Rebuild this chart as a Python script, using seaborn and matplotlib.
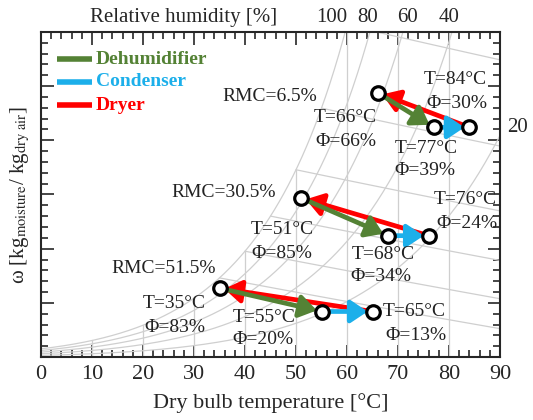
import numpy as np
import pandas as pd
import matplotlib
matplotlib.use("Agg")
import matplotlib.pyplot as plt
import seaborn as sns
from matplotlib.ticker import MultipleLocator

# ---------------- data ----------------
rmc_labels = ["RMC=6.5%", "RMC=30.5%", "RMC=51.5%"]
# state after dryer (inlet of dehumidifier)
T_a = [66, 51, 35]
phi_a = [66, 85, 83]
w_a = [0.122, 0.0734, 0.0318]
# state after dehumidifier
T_b = [77, 68, 55]
phi_b = [39, 34, 20]
w_b = [0.106, 0.056, 0.021]
# state after condenser
T_c = [84, 76, 65]
phi_c = [30, 24, 13]
w_c = [0.106, 0.056, 0.021]

rh_levels = [100, 80, 60, 40, 20]
rh_top_labels = ["100", "80", "60", "40"]
rh_top_T = [57, 64, 71.8, 80]
rh_right_label = "20"
wetbulb_levels = [35, 40, 45, 50, 55, 60]
drybulb_grid = [10, 20, 30, 40, 50, 60, 70, 80]

legend_names = ["Dehumidifier", "Condenser", "Dryer"]
col_dehum = "#548235"
col_cond = "#1CAFEA"
col_dryer = "#FF0000"
grid_col = "#CFCFCF"

P = 101.325
YMAX = 0.15

def psat(T):
    T = np.asarray(T, float)
    return 0.61094 * np.exp(17.625 * T / (T + 243.04))

def w_from_rh(T, rh):
    pv = rh / 100.0 * psat(T)
    return 0.622 * pv / (P - pv)

# ---------------- figure ----------------
sns.set_style("ticks")
plt.rcParams["font.family"] = ["Liberation Serif", "DejaVu Serif"]
plt.rcParams["mathtext.fontset"] = "stix"

fig = plt.figure(figsize=(5.33, 4.20), dpi=100)
ax = fig.add_axes([41 / 533, 1 - 357 / 420, 459 / 533, 325 / 420])
ax.set_xlim(0, 90)
ax.set_ylim(0, YMAX)

# RH curves
Tg = np.linspace(0, 90, 400)
for rh in rh_levels:
    wv = w_from_rh(Tg, rh)
    df = pd.DataFrame({"T": Tg, "w": wv})
    df = df[df["w"] <= YMAX * 1.02]
    sns.lineplot(data=df, x="T", y="w", ax=ax, color=grid_col, lw=0.9,
                 sort=False, estimator=None, zorder=1)

# dry bulb vertical lines (to saturation)
for Tv in drybulb_grid:
    wtop = min(float(w_from_rh(Tv, 100)), YMAX)
    ax.plot([Tv, Tv], [0, wtop], color=grid_col, lw=0.9, zorder=1)

# wet bulb lines
for twb in wetbulb_levels:
    ws = float(w_from_rh(twb, 100))
    Tl = np.linspace(twb, 90, 100)
    wl = ((2501 - 2.326 * twb) * ws - 1.006 * (Tl - twb)) / (2501 + 1.86 * Tl - 4.186 * twb)
    m = (wl >= 0) & (wl <= YMAX)
    ax.plot(Tl[m], wl[m], color=grid_col, lw=0.9, zorder=1)

# arrows
def arrow(p0, p1, col):
    ax.annotate("", xy=p1, xytext=p0,
                arrowprops=dict(arrowstyle="-|>,head_length=0.6,head_width=0.4",
                                color=col, lw=3.4, mutation_scale=17,
                                shrinkA=4, shrinkB=3.5),
                zorder=3)

for i in range(3):
    arrow((T_c[i], w_c[i]), (T_a[i], w_a[i]), col_dryer)
    arrow((T_a[i], w_a[i]), (T_b[i], w_b[i]), col_dehum)
    arrow((T_b[i], w_b[i]), (T_c[i], w_c[i]), col_cond)

pts = pd.DataFrame({"T": T_a + T_b + T_c, "w": w_a + w_b + w_c})
sns.scatterplot(data=pts, x="T", y="w", ax=ax, s=95, color="white",
                edgecolor="black", linewidth=2.3, zorder=5)

# annotations (offsets in pixels)
fs = 14
def lab(txt, xy, dx, dy):
    ax.annotate(txt, xy=xy, xytext=(dx, dy), textcoords="offset pixels",
                ha="center", va="center", fontsize=fs, color="#222222", zorder=6)

off_rmc = [(-108, -4), (-77, 5), (-56, 20)]
off_Ta = [(-32, -25), (-19, -32), (-45, -15)]
off_Tb = [(-7, -21), (-5, -19), (-57, -6)]
off_Tc = [(-14, 48), (37, 36), (42, 0)]
for i in range(3):
    pa = (T_a[i], w_a[i]); pb = (T_b[i], w_b[i]); pc = (T_c[i], w_c[i])
    lab(rmc_labels[i], pa, *off_rmc[i])
    lab(f"T={T_a[i]}°C", pa, *off_Ta[i])
    lab(f"Φ={phi_a[i]}%", pa, off_Ta[i][0], off_Ta[i][1] - 24)
    lab(f"T={T_b[i]}°C", pb, *off_Tb[i])
    lab(f"Φ={phi_b[i]}%", pb, off_Tb[i][0] - 2, off_Tb[i][1] - 22)
    lab(f"T={T_c[i]}°C", pc, *off_Tc[i])
    lab(f"Φ={phi_c[i]}%", pc, off_Tc[i][0] + 1, off_Tc[i][1] - 24)

# legend (manual, colored bold text)
leg_cols = [col_dehum, col_cond, col_dryer]
for k, (nm, c) in enumerate(zip(legend_names, leg_cols)):
    yy = 1 - (59 + 23 * k - 32) / 325
    ax.plot([16 / 459, 51 / 459], [yy, yy], transform=ax.transAxes, color=c, lw=4,
            solid_capstyle="butt", zorder=6)
    ax.text(55 / 459, yy, nm, transform=ax.transAxes, color=c, fontsize=14,
            fontweight="bold", va="center", ha="left", zorder=6)

# ticks
ax.xaxis.set_major_locator(MultipleLocator(10))
ax.xaxis.set_minor_locator(MultipleLocator(2))
ax.yaxis.set_major_locator(MultipleLocator(0.025))
ax.yaxis.set_minor_locator(MultipleLocator(0.005))
ax.tick_params(which="both", direction="in", top=True, right=True, width=1.2)
ax.tick_params(which="major", length=9, labelsize=16, pad=6)
ax.tick_params(which="minor", length=5)
ax.tick_params(axis="y", labelleft=False)
for s in ax.spines.values():
    s.set_linewidth(1.5)

ax.set_xlabel("Dry bulb temperature [°C]", fontsize=16, labelpad=6)
ax.set_ylabel(r"ω [kg$_{\mathrm{moisture}}$/ kg$_{\mathrm{dry\ air}}$]", fontsize=15, labelpad=3)

# top RH labels
for t, s in zip(rh_top_T, rh_top_labels):
    ax.text(t, 1.015, s, transform=ax.get_xaxis_transform(), ha="center", va="bottom",
            fontsize=15)
ax.text(143 / 459, 1.015, "Relative humidity [%]", transform=ax.transAxes,
        ha="center", va="bottom", fontsize=15)
ax.text(1.015, 1 - (127 - 32) / 325, rh_right_label, transform=ax.transAxes, ha="left",
        va="center", fontsize=15, clip_on=False)

fig.savefig("out.png", dpi=100)
